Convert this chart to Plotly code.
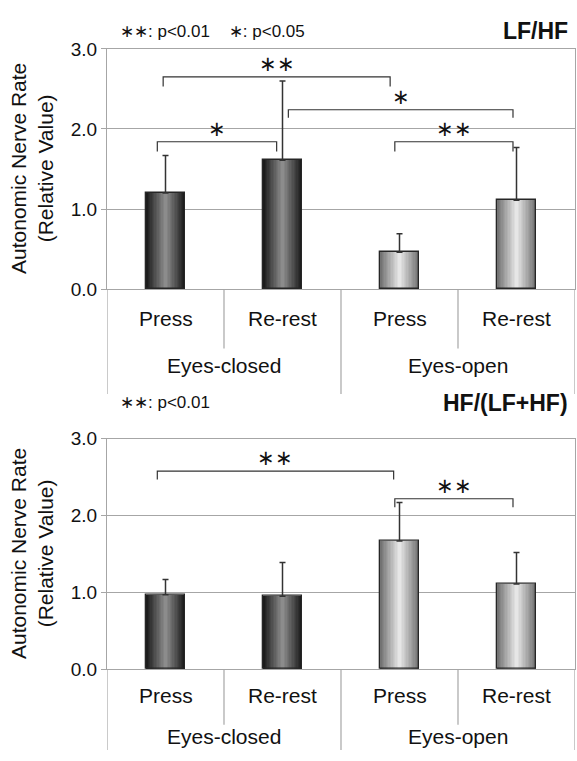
import plotly.graph_objects as go

# ---------------- data ----------------
groups = ["Eyes-closed", "Eyes-closed", "Eyes-open", "Eyes-open"]
conditions = ["Press", "Re-rest", "Press", "Re-rest"]
group_names = ["Eyes-closed", "Eyes-open"]

lfhf_mean = [1.20, 1.61, 0.46, 1.11]
lfhf_err = [0.47, 0.99, 0.23, 0.66]
hf_mean = [0.97, 0.95, 1.67, 1.11]
hf_err = [0.20, 0.44, 0.50, 0.41]

y_tick_vals = [0.0, 1.0, 2.0, 3.0]
y_tick_text = ["0.0", "1.0", "2.0", "3.0"]

# significance brackets: (x start, x end, level, drop, label)
lfhf_sig = [(-0.02, 1.92, 2.65, 0.12, "∗∗"),
            (1.05, 2.97, 2.24, 0.10, "∗"),
            (-0.07, 0.95, 1.84, 0.12, "∗"),
            (1.96, 2.97, 1.84, 0.12, "∗∗")]
hf_sig = [(-0.07, 1.95, 2.58, 0.11, "∗∗"),
          (1.96, 2.97, 2.22, 0.11, "∗∗")]

titles = ["LF/HF", "HF/(LF+HF)"]
legend_texts = ["∗∗: p<0.01&nbsp;&nbsp;&nbsp;&nbsp;∗: p<0.05", "∗∗: p<0.01"]

# ---------------- styling ----------------
W, H = 577, 761
FONT = "'Liberation Sans', Arial, sans-serif"
edge_col = {"Eyes-closed": (28, 28, 28), "Eyes-open": (115, 115, 115)}
center_col = {"Eyes-closed": (140, 140, 140), "Eyes-open": (230, 230, 230)}
BAR_W = 0.33
NLAYERS = 14
GRID = "#a6a6a6"


def py(px):
    return 1 - px / H


panels = [
    dict(mean=lfhf_mean, err=lfhf_err, sig=lfhf_sig, top=40, bot=287,
         lab1=317, lab2=366, short_end=348, long_end=395, title_y=22, xa="x", ya="y"),
    dict(mean=hf_mean, err=hf_err, sig=hf_sig, top=441, bot=678,
         lab1=705, lab2=747, short_end=735, long_end=761, title_y=404, xa="x2", ya="y2"),
]

x_idx = list(range(len(conditions)))
fig = go.Figure()
shapes = []
annotations = []

for p_i, p in enumerate(panels):
    # gradient bars via overlaid layers
    for k in range(NLAYERS):
        t = k / (NLAYERS - 1)
        cols = []
        for g in groups:
            e, c = edge_col[g], center_col[g]
            rgb = tuple(int(round(e[j] + (c[j] - e[j]) * t)) for j in range(3))
            cols.append("rgb(%d,%d,%d)" % rgb)
        fig.add_trace(go.Bar(
            x=x_idx, y=p["mean"],
            width=BAR_W * (1 - k / NLAYERS),
            marker=dict(color=cols, line=dict(width=0)),
            xaxis=p["xa"], yaxis=p["ya"], showlegend=False, hoverinfo="skip",
        ))
    # outline + error bars on top
    fig.add_trace(go.Bar(
        x=x_idx, y=p["mean"], width=BAR_W,
        marker=dict(color="rgba(0,0,0,0)", line=dict(color="#262626", width=1.3)),
        error_y=dict(type="data", array=p["err"], arrayminus=[0] * 4,
                     symmetric=False, color="#333333", thickness=1.5, width=3),
        xaxis=p["xa"], yaxis=p["ya"], showlegend=False, hoverinfo="skip",
    ))

    # brackets
    for (x0, x1, lev, drop, lab) in p["sig"]:
        shapes.append(dict(type="path", xref=p["xa"], yref=p["ya"],
                           path="M %f,%f L %f,%f L %f,%f L %f,%f" % (
                               x0, lev - drop, x0, lev, x1, lev, x1, lev - drop),
                           line=dict(color="#333333", width=1.2)))
        annotations.append(dict(x=(x0 + x1) / 2, y=lev, xref=p["xa"], yref=p["ya"],
                                text=lab, showarrow=False, yanchor="bottom",
                                font=dict(size=21, color="#111", family=FONT)))

    # category labels
    for i, c in enumerate(conditions):
        annotations.append(dict(x=i, y=py(p["lab1"]), xref=p["xa"], yref="paper",
                                text=c, showarrow=False, yanchor="middle",
                                font=dict(size=21, color="#111", family=FONT)))
    for gi, g in enumerate(group_names):
        annotations.append(dict(x=gi * 2 + 0.5, y=py(p["lab2"]), xref=p["xa"], yref="paper",
                                text=g, showarrow=False, yanchor="middle",
                                font=dict(size=21, color="#111", family=FONT)))
    # dividers
    for xb in [-0.5, 0.5, 1.5, 2.5, 3.5]:
        long_ = xb in (-0.5, 1.5, 3.5)
        shapes.append(dict(type="line", xref=p["xa"], yref="paper",
                           x0=xb, x1=xb, y0=py(p["bot"]),
                           y1=py(p["long_end"] if long_ else p["short_end"]),
                           line=dict(color=GRID, width=1.2)))

    # title and legend text
    annotations.append(dict(x=0.988, y=py(p["title_y"]), xref="paper", yref="paper",
                            text="<b>%s</b>" % titles[p_i], showarrow=False,
                            xanchor="right", yanchor="middle",
                            font=dict(size=23, color="#111", family=FONT)))
    annotations.append(dict(x=118 / W, y=py(p["title_y"]), xref="paper", yref="paper",
                            text=legend_texts[p_i], showarrow=False,
                            xanchor="left", yanchor="middle",
                            font=dict(size=17, color="#111", family=FONT)))
    # y-axis title
    annotations.append(dict(x=32 / W, y=py((p["top"] + p["bot"]) / 2), xref="paper",
                            yref="paper", text="Autonomic Nerve Rate<br>(Relative Value)",
                            showarrow=False, textangle=-90, xanchor="center",
                            yanchor="middle",
                            font=dict(size=21, color="#111", family=FONT)))

xdom = [107 / W, 575 / W]
axis_x = dict(domain=xdom, range=[-0.5, 3.5], showticklabels=False, ticks="",
              showgrid=False, zeroline=False, showline=True, mirror=True,
              linecolor=GRID, linewidth=1.2, fixedrange=True)
axis_y = dict(range=[0, 3], tickvals=y_tick_vals, ticktext=y_tick_text,
              ticks="outside", ticklen=5, tickcolor=GRID, showgrid=True,
              gridcolor=GRID, gridwidth=1.2, zeroline=False, showline=True,
              mirror=True, linecolor=GRID, linewidth=1.2,
              tickfont=dict(size=19, color="#111", family=FONT), fixedrange=True)

fig.update_layout(
    width=W, height=H, margin=dict(l=0, r=0, t=0, b=0),
    paper_bgcolor="white", plot_bgcolor="white",
    barmode="overlay", bargap=0,
    xaxis=dict(axis_x, anchor="y"),
    yaxis=dict(axis_y, domain=[py(panels[0]["bot"]), py(panels[0]["top"])], anchor="x"),
    xaxis2=dict(axis_x, anchor="y2"),
    yaxis2=dict(axis_y, domain=[py(panels[1]["bot"]), py(panels[1]["top"])], anchor="x2"),
    shapes=shapes, annotations=annotations,
    font=dict(family=FONT),
)

fig.write_html("out.html")
